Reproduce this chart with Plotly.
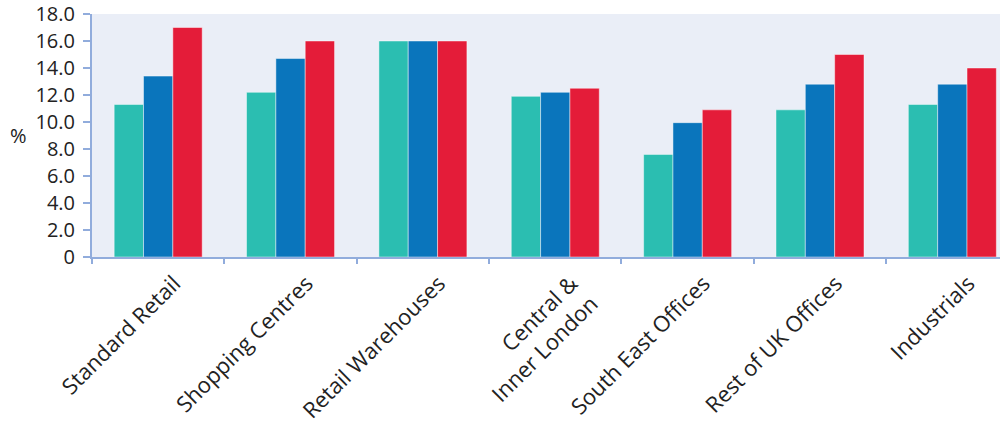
import plotly.graph_objects as go

categories = ["Standard Retail", "Shopping Centres", "Retail Warehouses",
              "Central &<br>Inner London", "South East Offices",
              "Rest of UK Offices", "Industrials"]
series_a = [11.3, 12.2, 16.0, 11.9, 7.6, 10.9, 11.3]
series_b = [13.4, 14.7, 16.0, 12.2, 9.95, 12.8, 12.8]
series_c = [17.0, 16.0, 16.0, 12.5, 10.9, 15.0, 14.0]
y_ticks = [0, 2, 4, 6, 8, 10, 12, 14, 16, 18]
y_tick_labels = ["0", "2.0", "4.0", "6.0", "8.0", "10.0", "12.0", "14.0", "16.0", "18.0"]

colors = ["#2BBEB1", "#0A75BC", "#E41C39"]
axis_col = "#91ACDC"
font_family = "Open Sans"
fsize = 20
xsize = 22

fig = go.Figure()
for vals, col in zip([series_a, series_b, series_c], colors):
    fig.add_trace(go.Bar(x=categories, y=vals, marker=dict(color=col,
                         line=dict(color="rgba(255,255,255,0.45)", width=1))))

fig.update_layout(
    width=1000, height=426,
    margin=dict(l=92, r=0, t=14, b=169, autoexpand=False),
    paper_bgcolor="white", plot_bgcolor="#EAEEF7",
    barmode="group", bargap=0.335, bargroupgap=0,
    showlegend=False,
    font=dict(family=font_family, size=fsize, color="#222222"),
    xaxis=dict(range=[-0.5, 6.36], showgrid=False, zeroline=False,
               showline=True, linecolor=axis_col, linewidth=2,
               ticks="outside", tickson="boundaries", ticklen=5,
               tickcolor=axis_col, tickwidth=2, tickangle=-45,
               ticklabelshift=16, ticklabelstandoff=3, automargin=False,
               tickfont=dict(family=font_family, size=xsize, color="#222222")),
    yaxis=dict(range=[0, 18], showgrid=False, zeroline=False,
               showline=True, linecolor=axis_col, linewidth=2,
               ticks="outside", ticklen=7, tickcolor=axis_col, tickwidth=2,
               tickvals=y_ticks, ticktext=y_tick_labels,
               ticklabelstandoff=4, automargin=False,
               tickfont=dict(family=font_family, size=fsize, color="#222222")),
    annotations=[dict(text="%", xref="paper", yref="paper",
                      x=-74/908, y=(257-135)/243,
                      xanchor="center", yanchor="middle",
                      showarrow=False, font=dict(family=font_family, size=fsize, color="#222222"))],
)
fig.write_html("out.html", config={"displayModeBar": False},
               post_script="document.body.style.margin='0';document.body.style.overflow='hidden';")
